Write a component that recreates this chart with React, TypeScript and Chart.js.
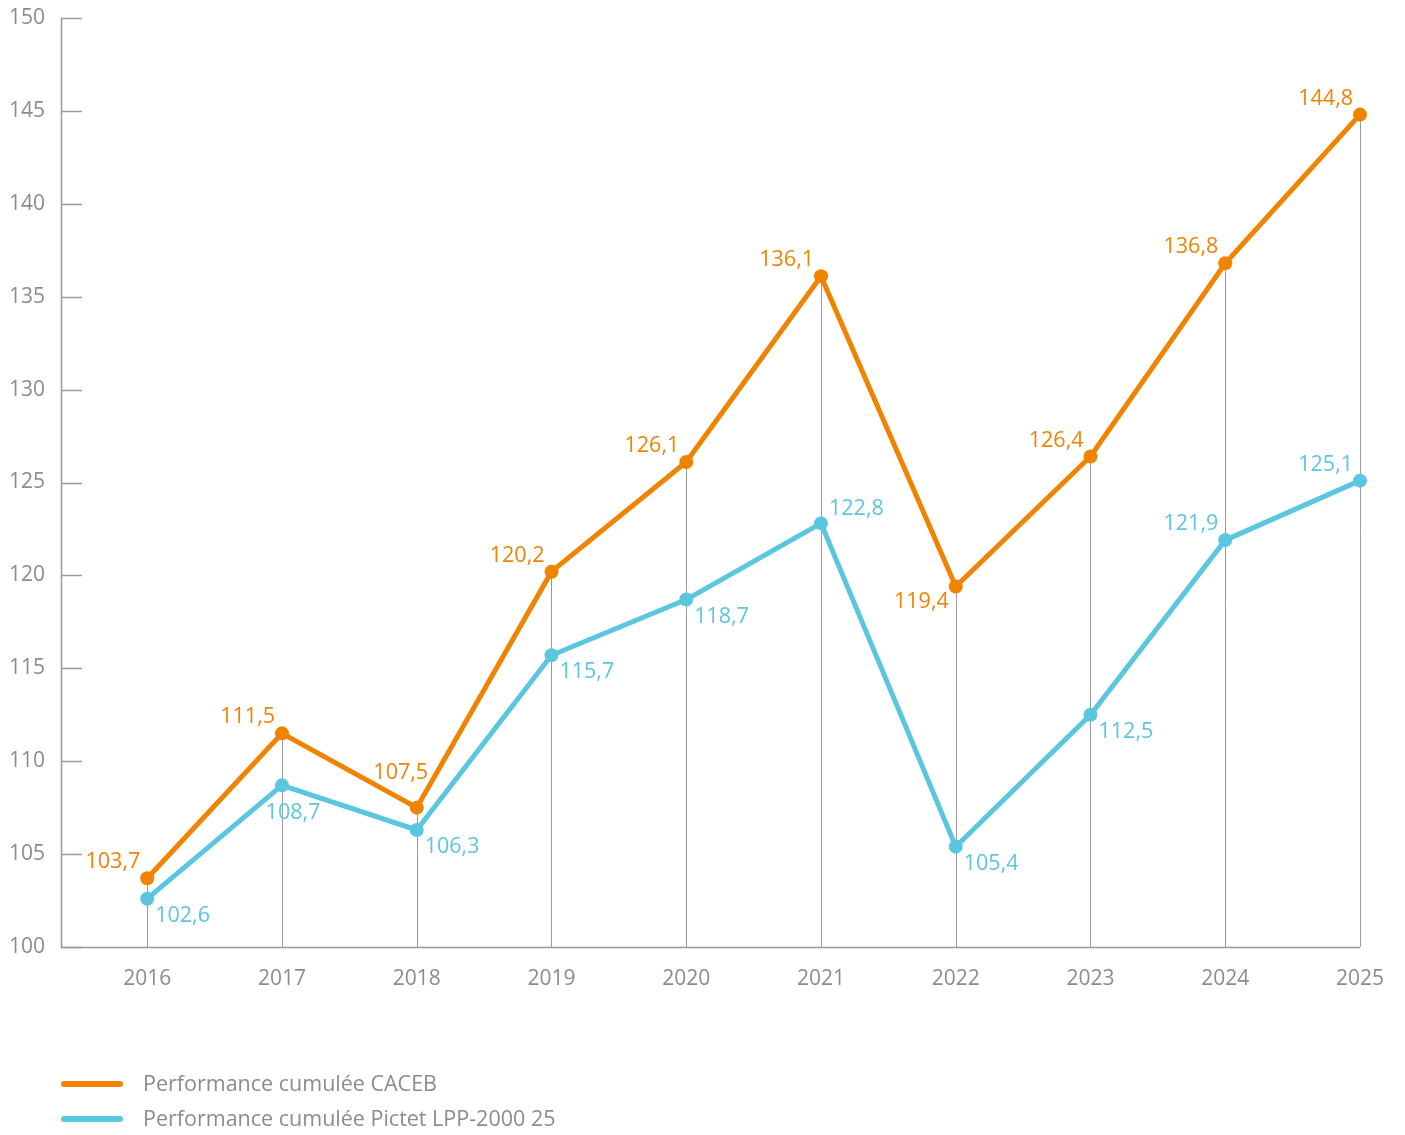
import React, { useEffect, useRef } from "react";
import { Chart, registerables } from "chart.js";

Chart.register(...registerables);

const years = [2016, 2017, 2018, 2019, 2020, 2021, 2022, 2023, 2024, 2025];
const caceb = [103.7, 111.5, 107.5, 120.2, 126.1, 136.1, 119.4, 126.4, 136.8, 144.8];
const pictet = [102.6, 108.7, 106.3, 115.7, 118.7, 122.8, 105.4, 112.5, 121.9, 125.1];
const yTicks = [100, 105, 110, 115, 120, 125, 130, 135, 140, 145, 150];
const seriesNames = ["Performance cumulée CACEB", "Performance cumulée Pictet LPP-2000 25"];
// label placement per point
const cacebPos = ["ul", "ul", "uc", "ul", "ul", "ul", "ll", "ul", "ul", "ul"];
const pictetPos = ["lr", "bs", "lr", "lr", "lr", "ur", "lr", "lr", "ul", "ul"];

const ORANGE = "#F08300";
const BLUE = "#5BC6DF";
const GRAY = "#8c8c8c";
const AXIS = "#9a9a9a";
const FONT = "'Open Sans', 'Noto Sans', sans-serif";

const fmt = (v: number) => v.toFixed(1).replace(".", ",");

const customPlugin = {
  id: "custom",
  beforeDatasetsDraw(chart: any) {
    const { ctx, scales } = chart;
    const x = scales.x, y = scales.y;
    ctx.save();
    ctx.strokeStyle = AXIS;
    ctx.lineWidth = 1;
    years.forEach((yr, i) => {
      const px = Math.round(x.getPixelForValue(yr)) + 0.5;
      const top = y.getPixelForValue(Math.max(caceb[i], pictet[i]));
      ctx.beginPath();
      ctx.moveTo(px, top);
      ctx.lineTo(px, y.bottom);
      ctx.stroke();
    });
    ctx.lineWidth = 1.5;
    yTicks.forEach((t) => {
      const py = Math.round(y.getPixelForValue(t)) + 0.5;
      ctx.beginPath();
      ctx.moveTo(x.left, py);
      ctx.lineTo(x.left + 21, py);
      ctx.stroke();
    });
    ctx.beginPath();
    ctx.moveTo(x.left + 0.5, y.top);
    ctx.lineTo(x.left + 0.5, y.bottom + 0.5);
    ctx.lineTo(x.right, y.bottom + 0.5);
    ctx.stroke();
    ctx.restore();
  },
  afterDatasetsDraw(chart: any) {
    const { ctx, scales } = chart;
    const x = scales.x, y = scales.y;
    ctx.save();
    ctx.font = `21.5px ${FONT}`;
    ctx.textBaseline = "middle";
    const draw = (vals: number[], pos: string[], color: string) => {
      ctx.fillStyle = color;
      vals.forEach((v, i) => {
        const px = x.getPixelForValue(years[i]);
        const py = y.getPixelForValue(v);
        const p = pos[i];
        let tx = px, ty = py;
        if (p === "ul") { ctx.textAlign = "right"; tx = px - 7; ty = py - 16; }
        else if (p === "ll") { ctx.textAlign = "right"; tx = px - 7; ty = py + 15; }
        else if (p === "ur") { ctx.textAlign = "left"; tx = px + 8; ty = py - 15; }
        else if (p === "lr") { ctx.textAlign = "left"; tx = px + 8; ty = py + 17; }
        else if (p === "uc") { ctx.textAlign = "center"; tx = px - 16; ty = py - 35; }
        else if (p === "bs") { ctx.textAlign = "center"; tx = px + 11; ty = py + 28; }
        ctx.fillText(fmt(v), tx, ty);
      });
    };
    draw(caceb, cacebPos, ORANGE);
    draw(pictet, pictetPos, BLUE);
    const colors = [ORANGE, BLUE];
    const rows = [1076, 1111];
    ctx.textAlign = "left";
    ctx.font = `21.5px ${FONT}`;
    rows.forEach((ry, i) => {
      ctx.strokeStyle = colors[i];
      ctx.lineWidth = 6;
      ctx.lineCap = "round";
      ctx.beginPath();
      ctx.moveTo(56, ry);
      ctx.lineTo(112, ry);
      ctx.stroke();
      ctx.fillStyle = GRAY;
      ctx.fillText(seriesNames[i], 135, ry + 1);
    });
    ctx.restore();
  },
};

export default function App() {
  const ref = useRef<HTMLCanvasElement | null>(null);
  useEffect(() => {
    if (!ref.current) return;
    const mk = (vals: number[], name: string, color: string) => ({
      label: name,
      data: vals.map((v, i) => ({ x: years[i], y: v })),
      borderColor: color,
      backgroundColor: color,
      borderWidth: 5,
      pointRadius: 7,
      pointHoverRadius: 7,
      pointBorderWidth: 0,
      tension: 0,
      clip: false,
    });
    const chart = new Chart(ref.current, {
      type: "line",
      data: {
        datasets: [mk(caceb, seriesNames[0], ORANGE), mk(pictet, seriesNames[1], BLUE)],
      },
      options: {
        animation: false,
        responsive: false,
        maintainAspectRatio: false,
        layout: { padding: { left: 0, top: 10, right: 37, bottom: 130 } },
        plugins: { legend: { display: false }, tooltip: { enabled: false } },
        scales: {
          x: {
            type: "linear",
            min: 2015.36,
            max: 2025,
            afterBuildTicks: (s: any) => { s.ticks = years.map((v) => ({ value: v })); },
            afterFit: (s: any) => { s.height = 50; s.paddingLeft = 0; s.paddingRight = 0; },
            grid: { display: false, drawTicks: false },
            border: { display: false },
            ticks: {
              color: GRAY,
              font: { family: FONT, size: 21 },
              padding: 19,
              autoSkip: false,
              maxRotation: 0,
              callback: (v: any) => String(v),
            },
          },
          y: {
            min: 100,
            max: 150,
            afterBuildTicks: (s: any) => { s.ticks = yTicks.map((v) => ({ value: v })); },
            afterFit: (s: any) => { s.width = 53; s.paddingTop = 0; s.paddingBottom = 0; },
            grid: { display: false, drawTicks: false },
            border: { display: false },
            ticks: {
              color: GRAY,
              font: { family: FONT, size: 21 },
              padding: 16,
              callback: (v: any) => String(v),
            },
          },
        },
      },
      plugins: [customPlugin],
    });
    return () => chart.destroy();
  }, []);
  return (
    <div style={{ width: 1389, height: 1119 }}>
      <canvas ref={ref} width={1389} height={1119} style={{ width: 1389, height: 1119 }} />
    </div>
  );
}
